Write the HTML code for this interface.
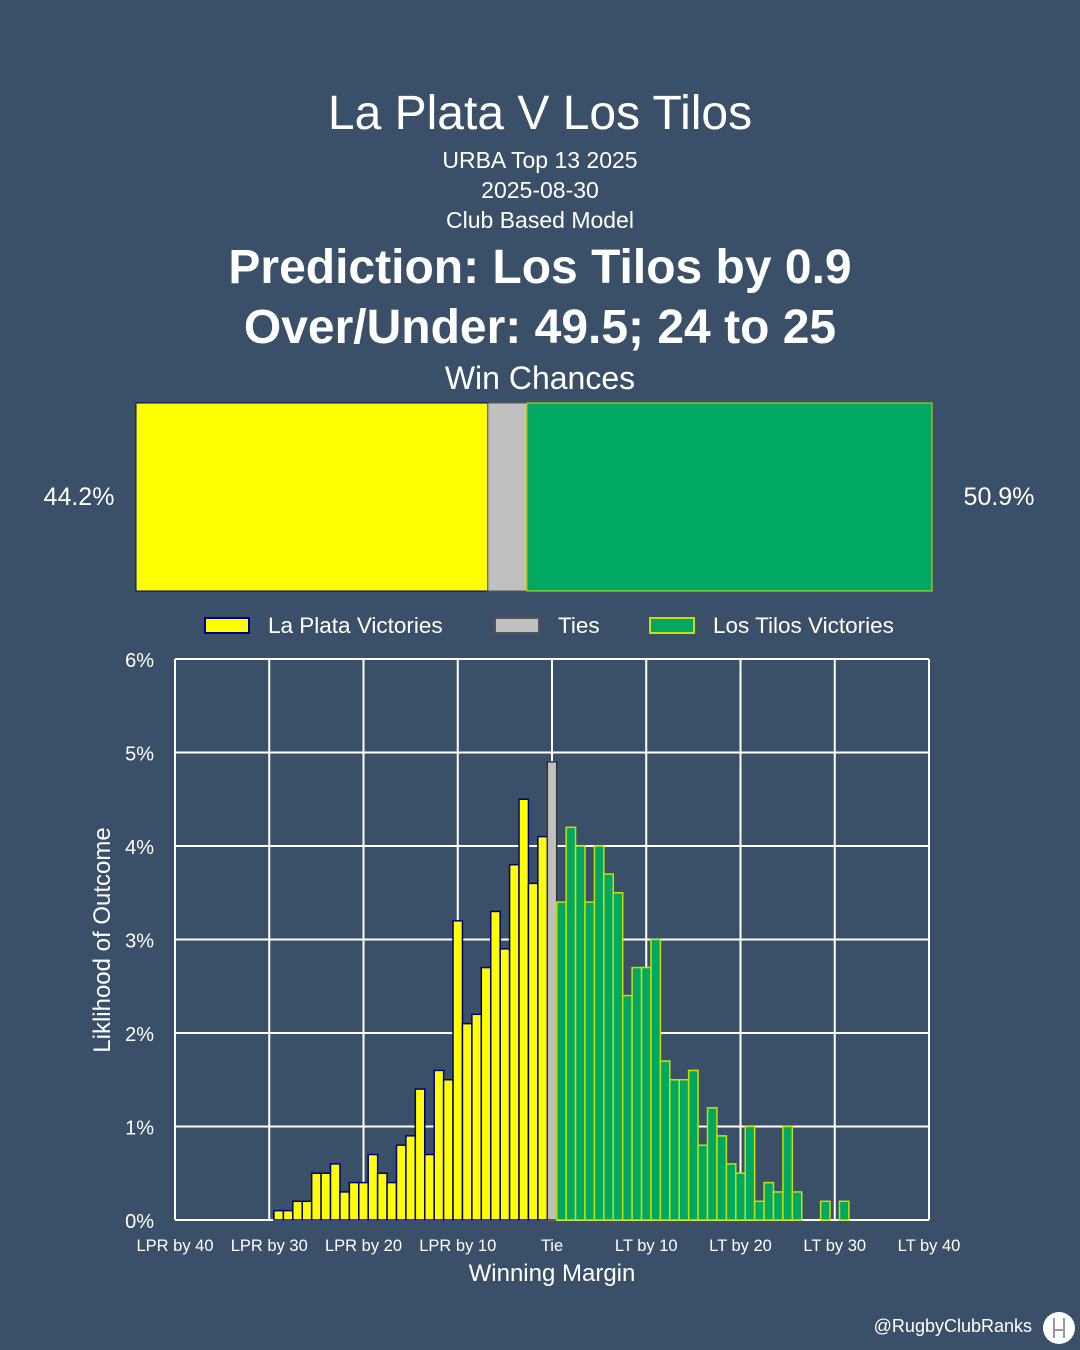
<!DOCTYPE html>
<html><head><meta charset="utf-8"><style>
body{margin:0;background:#3a5068;}
#wrap{position:relative;width:1080px;height:1350px;background:#3a5068;font-family:"Liberation Sans",sans-serif;color:#fff;overflow:hidden}
.c{position:absolute;left:0;width:1080px;text-align:center}
</style></head><body>
<div id="wrap">
<div class="c" style="top:86px;font-size:48px">La Plata V Los Tilos</div>
<div class="c" style="top:147px;font-size:23px">URBA Top 13 2025</div>
<div class="c" style="top:177px;font-size:23px">2025-08-30</div>
<div class="c" style="top:207px;font-size:23px">Club Based Model</div>
<div class="c" style="top:240px;font-size:48px;font-weight:bold">Prediction: Los Tilos by 0.9</div>
<div class="c" style="top:300px;font-size:48px;font-weight:bold">Over/Under: 49.5; 24 to 25</div>
<div class="c" style="top:360px;font-size:32px">Win Chances</div>
<svg id="svg" width="1080" height="1350" style="position:absolute;left:0;top:0"></svg>
</div>
<script>
const winLabels=["La Plata Victories","Ties","Los Tilos Victories"];
const winValues=[44.2,4.9,50.9];
const lpMargins=[-29,-28,-27,-26,-25,-24,-23,-22,-21,-20,-19,-18,-17,-16,-15,-14,-13,-12,-11,-10,-9,-8,-7,-6,-5,-4,-3,-2,-1];
const lpValues=[0.1,0.1,0.2,0.2,0.5,0.5,0.6,0.3,0.4,0.4,0.7,0.5,0.4,0.8,0.9,1.4,0.7,1.6,1.5,3.2,2.1,2.2,2.7,3.3,2.9,3.8,4.5,3.6,4.1];
const tieValue=4.9;
const ltMargins=[1,2,3,4,5,6,7,8,9,10,11,12,13,14,15,16,17,18,19,20,21,22,23,24,25,26,29,31];
const ltValues=[3.4,4.2,4.0,3.4,4.0,3.7,3.5,2.4,2.7,2.7,3.0,1.7,1.5,1.5,1.6,0.8,1.2,0.9,0.6,0.5,1.0,0.2,0.4,0.3,1.0,0.3,0.2,0.2];
const xTicks=[-40,-30,-20,-10,0,10,20,30,40];
const xTickLabels=["LPR by 40","LPR by 30","LPR by 20","LPR by 10","Tie","LT by 10","LT by 20","LT by 30","LT by 40"];
const yTicks=[0,1,2,3,4,5,6];

const NS="http://www.w3.org/2000/svg";
const svg=document.getElementById('svg');
function mk(t,a,txt){const e=document.createElementNS(NS,t);for(const k in a)e.setAttribute(k,a[k]);if(txt!==undefined)e.textContent=txt;svg.appendChild(e);return e;}
const X0=175,X1=929,Y0=1220,Y1=659;
const xs=m=>X0+(m+40)/80*(X1-X0);
const ys=v=>Y0-v/6*(Y0-Y1);
const bw=(X1-X0)/80;

const BX0=136,BX1=932,tot=winValues[0]+winValues[1]+winValues[2];
const wb=v=>v/tot*(BX1-BX0);
const fills=["#ffff00","#c0c0c0","#00a862"],strokes=["#000080","#555","#c8e000"];
let cx=BX0;
winValues.forEach((v,i)=>{const r=mk('rect',{x:cx,y:403,width:wb(v),height:188,fill:fills[i],stroke:strokes[i],'stroke-width':1});

cx+=wb(v);});
let t=mk('text',{x:79,y:505,'font-size':25,fill:'#fff','text-anchor':'middle'},winValues[0].toFixed(1)+'%');

t=mk('text',{x:999,y:505,'font-size':25,fill:'#fff','text-anchor':'middle'},winValues[2].toFixed(1)+'%');


const legX=[205,495,650];
winLabels.forEach((l,i)=>{const r=mk('rect',{x:legX[i],y:618,width:44,height:15,fill:fills[i],stroke:strokes[i],'stroke-width':2});

const tt=mk('text',{x:legX[i]+63,y:633,'font-size':22.5,fill:'#fff'},l);
});

yTicks.forEach(v=>{const g=mk('line',{x1:X0,x2:X1,y1:ys(v),y2:ys(v),stroke:'#fff','stroke-width':2});

const tt=mk('text',{x:154,y:ys(v)+8,'font-size':20,fill:'#fff','text-anchor':'end'},v+'%');
});
xTicks.forEach((m,i)=>{const g=mk('line',{x1:xs(m),x2:xs(m),y1:Y1,y2:Y0,stroke:'#fff','stroke-width':2});

const tt=mk('text',{x:xs(m),y:1251,'font-size':16.5,fill:'#fff','text-anchor':'middle'},xTickLabels[i]);
});

lpMargins.forEach((m,i)=>{const r=mk('rect',{x:xs(m)-bw/2,y:ys(lpValues[i]),width:bw,height:Y0-ys(lpValues[i]),fill:'#ffff00',stroke:'#000080','stroke-width':1.5});
});
let tb=mk('rect',{x:xs(0)-bw/2,y:ys(tieValue),width:bw,height:Y0-ys(tieValue),fill:'#c0c0c0',stroke:'#333','stroke-width':1.5});

ltMargins.forEach((m,i)=>{const r=mk('rect',{x:xs(m)-bw/2,y:ys(ltValues[i]),width:bw,height:Y0-ys(ltValues[i]),fill:'#00a862',stroke:'#c8e000','stroke-width':1.5});
});

t=mk('text',{x:552,y:1281,'font-size':24,fill:'#fff','text-anchor':'middle'},'Winning Margin');

t=mk('text',{x:0,y:0,'font-size':24,fill:'#fff','text-anchor':'middle',transform:'translate(110,940) rotate(-90)'},'Liklihood of Outcome');

t=mk('text',{x:1032,y:1332,'font-size':18,fill:'#fff','text-anchor':'end'},'@RugbyClubRanks');

let lg=mk('circle',{cx:1059,cy:1328,r:16,fill:'#fff'});

mk('path',{d:'M1054 1318v20M1064 1318v20M1054 1330h10',stroke:'#999','stroke-width':2,fill:'none'});
</script>
</body></html>
